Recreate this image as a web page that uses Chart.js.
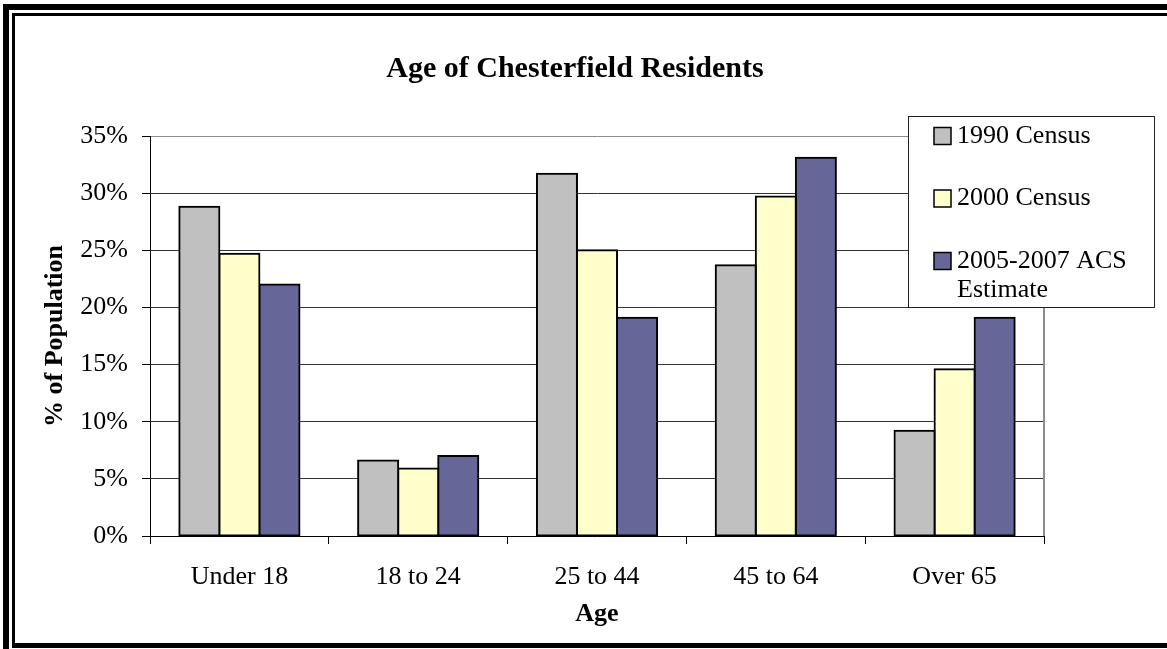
<!DOCTYPE html>
<html>
<head>
<meta charset="utf-8">
<title>Age of Chesterfield Residents</title>
<script src="https://cdn.jsdelivr.net/npm/chart.js@4.4.1/dist/chart.umd.min.js"></script>
<style>
  html, body { margin: 0; padding: 0; background: #ffffff; }
  canvas { display: block; }
</style>
</head>
<body>
<canvas id="ageChart" width="1167" height="649"></canvas>
<script>
// ---- Data ----
const chartTitle = 'Age of Chesterfield Residents';
const ageGroups = ['Under 18', '18 to 24', '25 to 44', '45 to 64', 'Over 65'];
const seriesNames = ['1990 Census', '2000 Census', '2005-2007 ACS Estimate'];
const census1990 = [28.8, 6.6, 31.7, 23.7, 9.2];
const census2000 = [24.7, 5.9, 25.0, 29.7, 14.6];
const acs2005to2007 = [22.0, 7.0, 19.1, 33.1, 19.1];
const yAxisMin = 0;
const yAxisMax = 35;
const yAxisStep = 5;
const xAxisTitle = 'Age';
const yAxisTitle = '% of Population';

// ---- Styling ----
const SERIF = "'Liberation Serif', 'Times New Roman', serif";
const seriesColors = ['#C0C0C0', '#FFFFCC', '#666699'];

// Double frame around the whole chart
const framePlugin = {
  id: 'frame',
  beforeDraw(chart) {
    const { ctx, width, height } = chart;
    ctx.save();
    ctx.fillStyle = '#ffffff';
    ctx.fillRect(0, 0, width, height);
    ctx.fillStyle = '#000000';
    // outer heavy rule
    ctx.fillRect(3, 4, width - 3, 6);
    ctx.fillRect(3, 4, 6, height - 4);
    // inner light rule
    ctx.fillRect(12, 13, width - 12, 3);
    ctx.fillRect(12, 13, 3, 632);
    ctx.fillRect(12, 643, width - 12, 5);
    ctx.restore();
  }
};

// Grey right edge of the plot area
const plotEdgePlugin = {
  id: 'plotEdge',
  beforeDatasetsDraw(chart) {
    const { ctx, chartArea } = chart;
    ctx.save();
    ctx.strokeStyle = '#8c8c8c';
    ctx.lineWidth = 2;
    ctx.beginPath();
    ctx.moveTo(chartArea.right, chartArea.top);
    ctx.lineTo(chartArea.right, chartArea.bottom);
    ctx.stroke();
    ctx.restore();
  }
};

// Chart heading
const headingPlugin = {
  id: 'heading',
  afterDraw(chart, args, opts) {
    const { ctx } = chart;
    ctx.save();
    ctx.font = 'bold 30px ' + SERIF;
    ctx.fillStyle = '#000000';
    ctx.textAlign = 'center';
    ctx.textBaseline = 'middle';
    ctx.fillText(opts.text, opts.x, opts.y);
    ctx.restore();
  }
};

// Boxed legend sitting over the top-right of the plot
const boxLegendPlugin = {
  id: 'boxLegend',
  afterDraw(chart, args, opts) {
    const { ctx } = chart;
    const b = opts.box;
    ctx.save();
    ctx.fillStyle = '#ffffff';
    ctx.fillRect(b.left, b.top, b.right - b.left, b.bottom - b.top);
    ctx.strokeStyle = '#222222';
    ctx.lineWidth = 1;
    ctx.strokeRect(b.left + 0.5, b.top + 0.5, b.right - b.left - 1, b.bottom - b.top - 1);

    ctx.font = '26px ' + SERIF;
    ctx.textAlign = 'left';
    ctx.textBaseline = 'middle';
    const textX = opts.swatchX + opts.swatchSize + 6;
    const maxWidth = b.right - textX - 4;
    let y = b.top + opts.firstLine;
    chart.data.datasets.forEach((ds) => {
      // wrap the series name to fit the box
      const words = ds.label.split(' ');
      const lines = [];
      let line = '';
      words.forEach((w) => {
        const test = line ? line + ' ' + w : w;
        if (line && ctx.measureText(test).width > maxWidth) {
          lines.push(line);
          line = w;
        } else {
          line = test;
        }
      });
      if (line) lines.push(line);

      const s = opts.swatchSize;
      ctx.fillStyle = ds.backgroundColor;
      ctx.fillRect(opts.swatchX, y - s / 2, s, s);
      ctx.strokeStyle = '#000000';
      ctx.lineWidth = 1.5;
      ctx.strokeRect(opts.swatchX, y - s / 2, s, s);

      ctx.fillStyle = '#000000';
      lines.forEach((ln, i) => ctx.fillText(ln, textX, y + i * opts.lineHeight));
      y += (lines.length - 1) * opts.lineHeight + opts.rowStep;
    });
    ctx.restore();
  }
};

const datasetValues = [census1990, census2000, acs2005to2007];

new Chart(document.getElementById('ageChart'), {
  type: 'bar',
  data: {
    labels: ageGroups,
    datasets: seriesNames.map((name, i) => ({
      label: name,
      data: datasetValues[i],
      backgroundColor: seriesColors[i],
      borderColor: '#000000',
      borderWidth: 2,
      borderSkipped: false,
      inflateAmount: 1,
      categoryPercentage: 0.672,
      barPercentage: 1.0
    }))
  },
  options: {
    responsive: false,
    animation: false,
    layout: { padding: { left: 20, right: 123, top: 136, bottom: 13 } },
    plugins: {
      legend: { display: false },
      title: { display: false },
      tooltip: { enabled: false },
      heading: { text: chartTitle, x: 575, y: 69 },
      boxLegend: {
        box: { left: 908, top: 116, right: 1155, bottom: 308 },
        swatchX: 934,
        swatchSize: 17,
        firstLine: 20,
        lineHeight: 29,
        rowStep: 62.5
      }
    },
    scales: {
      x: {
        afterFit(scale) { scale.height = 100; },
        grid: {
          offset: true,
          drawOnChartArea: false,
          drawTicks: true,
          tickLength: 8,
          color: '#000000',
          lineWidth: 1
        },
        border: { display: true, color: '#000000', width: 1 },
        ticks: {
          color: '#000000',
          font: { family: SERIF, size: 26 },
          padding: 18,
          maxRotation: 0,
          autoSkip: false
        },
        title: {
          display: true,
          text: xAxisTitle,
          color: '#000000',
          font: { family: SERIF, size: 26, weight: 'bold' },
          padding: { top: 0, bottom: 6 }
        }
      },
      y: {
        min: yAxisMin,
        max: yAxisMax,
        afterFit(scale) { scale.width = 130; },
        grid: {
          drawTicks: true,
          tickLength: 8,
          color: (c) => (c.tick && c.tick.value === yAxisMax ? '#8c8c8c' : '#333333'),
          tickColor: '#000000',
          lineWidth: 1
        },
        border: { display: true, color: '#000000', width: 1 },
        ticks: {
          stepSize: yAxisStep,
          color: '#000000',
          font: { family: SERIF, size: 26 },
          padding: 14,
          callback: (v) => v + '%'
        },
        title: {
          display: true,
          text: yAxisTitle,
          color: '#000000',
          font: { family: SERIF, size: 26, weight: 'bold' },
          padding: { top: 20, bottom: 0 }
        }
      }
    }
  },
  plugins: [framePlugin, plotEdgePlugin, headingPlugin, boxLegendPlugin]
});
</script>
</body>
</html>
